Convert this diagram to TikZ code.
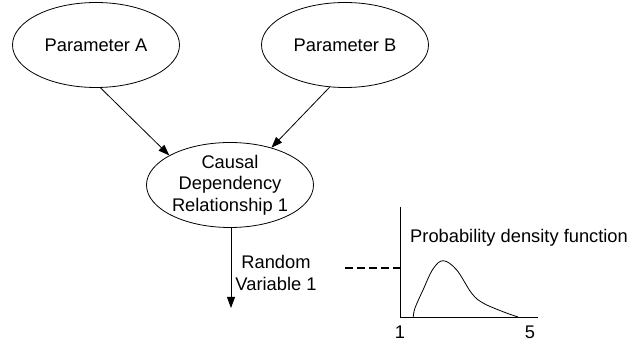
\documentclass[tikz,border=0pt]{standalone}
\usepackage{fontspec}
\setmainfont{Liberation Sans}
\usetikzlibrary{shapes.geometric,arrows.meta}
\begin{document}
\begin{tikzpicture}[x=1pt,y=-1pt,
  every node/.style={font=\fontsize{18.3}{21.5}\selectfont},
  ell/.style={ellipse,draw,line width=0.8pt,minimum width=167pt,minimum height=85pt,align=center,inner sep=0pt},
  conn/.style={line width=0.8pt,-{Triangle[length=11pt,width=8pt]}},
  lbl/.style={inner sep=0pt,align=center},
  axis/.style={line width=0.8pt}]
\useasboundingbox (0,0) rectangle (640,347);
\node[ell] (A) at (96,45) {Parameter A};
\node[ell] (B) at (345,45) {Parameter B};
\node[ell] (C) at (230,185) {Causal\\Dependency\\Relationship 1};
\coordinate (RV) at (231,308);
\draw[conn] (A.-84) -- (C.154);
\draw[conn] (B.250) -- (C.42);
\draw[conn] (C.south -| RV) -- (RV);
\node[lbl] (rvl) at (276,273) {Random\\Variable 1};
% chart
\coordinate (ytop) at (400,207);
\coordinate (O) at (400,317);
\coordinate (xend) at (538,317);
\coordinate (dl) at (345,268);
\coordinate (dr) at (400,268);
\draw[axis] (ytop) -- (O) -- (xend);
\draw[line width=1.2pt,dash pattern=on 8pt off 4pt] (dl) -- (dr);
\draw[line width=0.8pt] plot[smooth,tension=0.6] coordinates {(413.3,317) (415,308) (423,290) (433,269) (443.3,260.7) (456.7,270) (471.7,293.3) (483,303) (503,311.7) (518,317)};
\node[lbl,anchor=west] (pdf) at (410,238) {Probability density function};
\node[lbl] (one) at (400,332) {1};
\node[lbl] (five) at (530,332) {5};
\end{tikzpicture}
\end{document}
